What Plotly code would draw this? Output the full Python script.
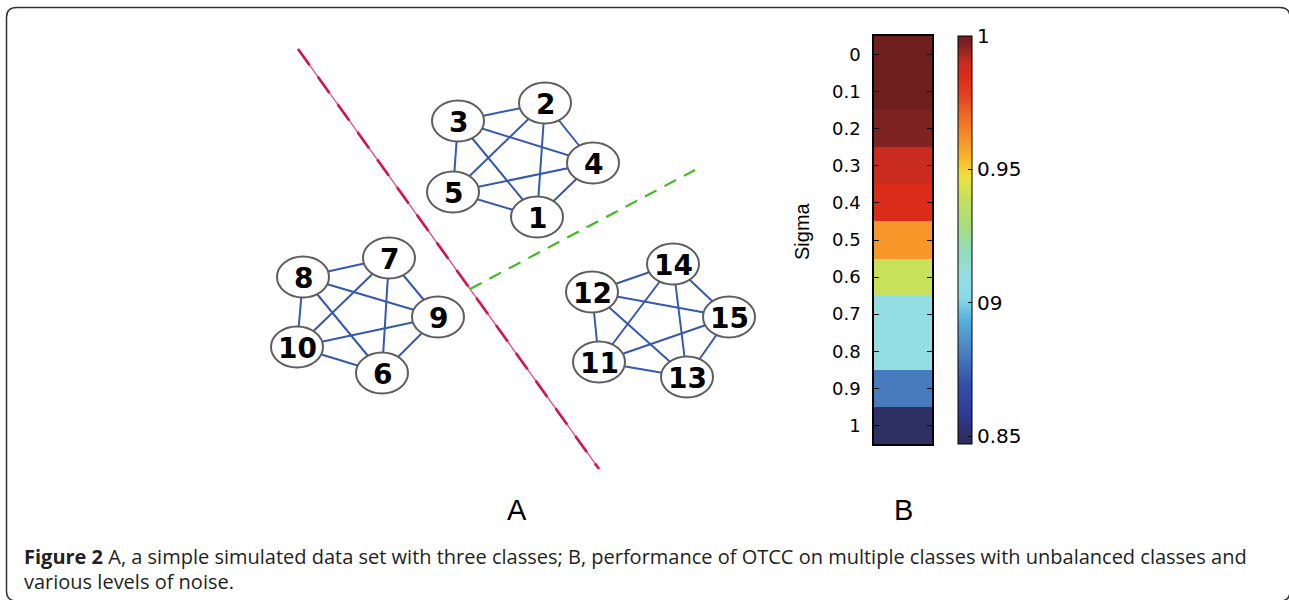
import plotly.graph_objects as go

W, H = 1289, 600

# ---- Panel A: three fully connected 5-node classes ----
node_ids = [1, 2, 3, 4, 5, 6, 7, 8, 9, 10, 11, 12, 13, 14, 15]
node_x = [537, 545, 458, 593, 453, 382, 389, 303, 438, 297, 599, 592, 687, 673, 729]
node_y = [217, 103, 121, 163, 192, 373, 258, 277, 317, 347, 362, 292, 377, 264, 317]
classes = [[1, 2, 3, 4, 5], [6, 7, 8, 9, 10], [11, 12, 13, 14, 15]]

# separating lines (start, end) in panel coordinates
red_line_x = [298, 599]
red_line_y = [49, 469]
green_line_x = [470, 695]
green_line_y = [289, 170]

# ---- Panel B: performance vs. noise level ----
sigma = [0, 0.1, 0.2, 0.3, 0.4, 0.5, 0.6, 0.7, 0.8, 0.9, 1.0]
sigma_labels = ["0", "0.1", "0.2", "0.3", "0.4", "0.5", "0.6", "0.7", "0.8", "0.9", "1"]
performance = [1.0, 1.0, 0.997, 0.99, 0.985, 0.96, 0.94, 0.91, 0.91, 0.88, 0.85]
cbar_vals = [0.85, 0.9, 0.95, 1.0]
cbar_text = ["0.85", "09", "0.95", "1"]
zmin, zmax = 0.847, 1.0

anchors = [
    (0.847, "#2d2c60"), (0.85, "#2e2f62"), (0.858, "#2f3a94"), (0.87, "#3452a8"),
    (0.88, "#467bbd"), (0.893, "#55aedd"), (0.902, "#8adbe8"), (0.91, "#93dee2"),
    (0.92, "#90ddb8"), (0.93, "#abdd78"), (0.94, "#c8e05a"), (0.947, "#ece23c"),
    (0.954, "#f6b92a"), (0.96, "#f7972a"), (0.97, "#f06a24"), (0.978, "#e04020"),
    (0.985, "#da2c18"), (0.99, "#c92c1f"), (0.997, "#7e2222"), (1.0, "#6f1f1e"),
]
colorscale = [[(v - zmin) / (zmax - zmin), c] for v, c in anchors]

fig = go.Figure()

# edges
pos = {n: (x, y) for n, x, y in zip(node_ids, node_x, node_y)}
ex, ey = [], []
for cl in classes:
    for i in range(len(cl)):
        for j in range(i + 1, len(cl)):
            ex += [pos[cl[i]][0], pos[cl[j]][0], None]
            ey += [pos[cl[i]][1], pos[cl[j]][1], None]
fig.add_trace(go.Scatter(x=ex, y=ey, mode="lines", line=dict(color="#3558b0", width=2),
                         hoverinfo="skip", showlegend=False))

# class boundaries
fig.add_trace(go.Scatter(x=red_line_x, y=red_line_y, mode="lines",
                         line=dict(color="#e8308a", width=1.2), hoverinfo="skip", showlegend=False))
fig.add_trace(go.Scatter(x=red_line_x, y=red_line_y, mode="lines",
                         line=dict(color="#d3124f", width=2.6, dash="20px,14px"),
                         hoverinfo="skip", showlegend=False))
fig.add_trace(go.Scatter(x=green_line_x, y=green_line_y, mode="lines",
                         line=dict(color="#3fbb20", width=2.2, dash="13px,9px"),
                         hoverinfo="skip", showlegend=False))

# heatmap column
fig.add_trace(go.Heatmap(
    z=[[v] for v in performance], x=[0], y=sigma,
    colorscale=colorscale, zmin=zmin, zmax=zmax,
    xaxis="x2", yaxis="y2", hoverinfo="skip",
    colorbar=dict(
        x=958 / W, xanchor="left", y=1 - 444 / H, yanchor="bottom",
        len=408 / H, lenmode="fraction", thickness=14, xpad=0, ypad=0,
        outlinecolor="black", outlinewidth=1,
        tickvals=cbar_vals, ticktext=cbar_text,
        ticks="inside", ticklen=4, tickcolor="black", tickwidth=1,
        tickfont=dict(family="DejaVu Sans", size=20, color="black"),
        ticklabelposition="outside",
    ),
))

shapes = []
# node ellipses
for x, y in zip(node_x, node_y):
    shapes.append(dict(type="circle", xref="x", yref="y",
                       x0=x - 26, x1=x + 26, y0=y - 20.5, y1=y + 20.5,
                       fillcolor="white", line=dict(color="#5e5e5e", width=2),
                       layer="above"))

# rounded frame
L, T, R, B, r = 6.5, 7.5, 1290, 601, 10
frame = (f"M {L+r},{T} L {R-r},{T} Q {R},{T} {R},{T+r} L {R},{B-r} Q {R},{B} {R-r},{B} "
         f"L {L+r},{B} Q {L},{B} {L},{B-r} L {L},{T+r} Q {L},{T} {L+r},{T} Z")
shapes.append(dict(type="path", xref="x", yref="y", path=frame,
                   line=dict(color="#333333", width=1.5)))

annotations = []
for n, x, y in zip(node_ids, node_x, node_y):
    annotations.append(dict(x=x, y=y + 1, xref="x", yref="y", text=f"<b>{n}</b>",
                            showarrow=False,
                            font=dict(family="DejaVu Sans", size=28, color="black")))

annotations += [
    dict(x=517, y=510, xref="x", yref="y", text="A", showarrow=False,
         font=dict(family="Liberation Sans", size=29, color="black")),
    dict(x=903, y=510, xref="x", yref="y", text="B", showarrow=False,
         font=dict(family="Liberation Sans", size=29, color="black")),
    dict(x=802, y=231, xref="x", yref="y", text="Sigma", showarrow=False, textangle=-90,
         font=dict(family="Liberation Sans", size=20, color="black")),
    dict(x=22, y=556, xref="x", yref="y", xanchor="left", showarrow=False,
         text="<b>Figure 2</b> A, a simple simulated data set with three classes; B, performance of "
              "OTCC on multiple classes with unbalanced classes and",
         font=dict(family="Open Sans", size=20, color="#231f20")),
    dict(x=22, y=581, xref="x", yref="y", xanchor="left", showarrow=False,
         text="various levels of noise.",
         font=dict(family="Open Sans", size=20, color="#231f20")),
]

fig.update_layout(
    width=W, height=H, margin=dict(l=0, r=0, t=0, b=0),
    paper_bgcolor="white", plot_bgcolor="rgba(0,0,0,0)",
    xaxis=dict(range=[0, W], visible=False, domain=[0, 1], fixedrange=True),
    yaxis=dict(range=[H, 0], visible=False, domain=[0, 1], fixedrange=True),
    xaxis2=dict(domain=[874 / W, 932 / W], anchor="y2", range=[-0.5, 0.5],
                showticklabels=False, ticks="", showgrid=False, zeroline=False,
                showline=True, linecolor="black", linewidth=1.5, mirror=True),
    yaxis2=dict(domain=[1 - 444 / H, 1 - 36 / H], anchor="x2", range=[1.05, -0.05],
                tickvals=sigma, ticktext=sigma_labels, ticks="inside", ticklen=5,
                tickcolor="black", showgrid=False, zeroline=False,
                showline=True, linecolor="black", linewidth=1.5, mirror="ticks",
                ticklabelstandoff=8,
                tickfont=dict(family="DejaVu Sans", size=18, color="black")),
    shapes=shapes, annotations=annotations, showlegend=False,
)

fig.write_html("out.html")
